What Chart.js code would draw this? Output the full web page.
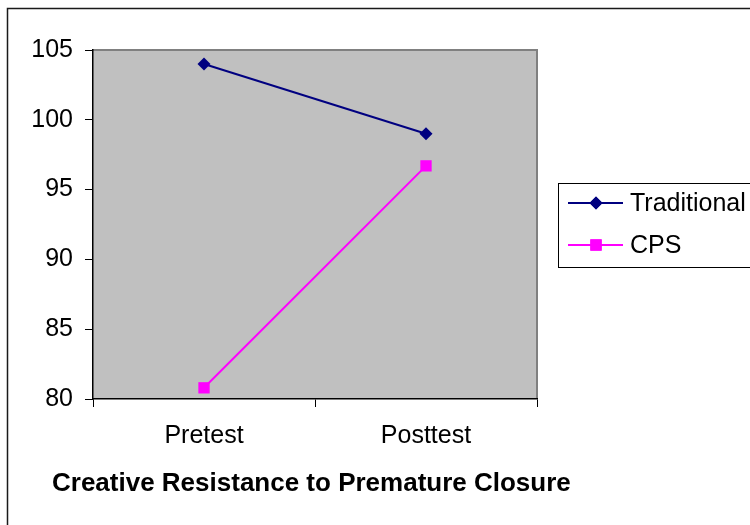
<!DOCTYPE html>
<html>
<head>
<meta charset="utf-8">
<script src="https://cdn.jsdelivr.net/npm/chart.js@4/dist/chart.umd.min.js"></script>
<style>
  html, body { margin: 0; padding: 0; background: #fff; }
  #wrap { width: 750px; height: 525px; }
</style>
</head>
<body>
<div id="wrap"><canvas id="chart" width="750" height="525"></canvas></div>
<script>
const categories = ['Pretest', 'Posttest'];
const traditional = [104.0, 99.0];
const cps = [80.8, 96.7];
const yTicks = [80, 85, 90, 95, 100, 105];
const chartTitle = 'Creative Resistance to Premature Closure';

const FONT = 'Arial, "Liberation Sans", sans-serif';

// gray plot background with the darker top/right edge
const plotBackground = {
  id: 'plotBackground',
  beforeDraw(chart) {
    const { ctx, chartArea: a } = chart;
    ctx.save();
    ctx.fillStyle = '#c0c0c0';
    ctx.fillRect(a.left, a.top, a.right - a.left, a.bottom - a.top);
    ctx.strokeStyle = '#808080';
    ctx.lineWidth = 2;
    ctx.beginPath();
    ctx.moveTo(a.left, a.top);
    ctx.lineTo(a.right, a.top);
    ctx.lineTo(a.right, a.bottom);
    ctx.stroke();
    ctx.restore();
  }
};

// outer frame, boxed legend and bottom title
const decorations = {
  id: 'decorations',
  afterDraw(chart) {
    const { ctx } = chart;
    ctx.save();
    ctx.strokeStyle = '#1a1a1a';
    ctx.lineWidth = 1.5;
    ctx.beginPath();
    ctx.moveTo(7.5, 525);
    ctx.lineTo(7.5, 8.5);
    ctx.lineTo(750, 8.5);
    ctx.stroke();

    // legend
    ctx.strokeStyle = '#000';
    ctx.lineWidth = 1;
    ctx.strokeRect(558.5, 183.5, 200, 84);
    const rows = [203, 245];
    chart.data.datasets.forEach((ds, i) => {
      const y = rows[i];
      ctx.strokeStyle = ds.borderColor;
      ctx.lineWidth = 2;
      ctx.beginPath();
      ctx.moveTo(568, y);
      ctx.lineTo(623, y);
      ctx.stroke();
      ctx.fillStyle = ds.backgroundColor;
      Chart.helpers.drawPoint(ctx, {
        pointStyle: ds.pointStyle,
        radius: ds.pointRadius,
        borderWidth: 0
      }, 596, y);
      ctx.fill();
      ctx.fillStyle = '#000';
      ctx.font = '25px ' + FONT;
      ctx.textBaseline = 'middle';
      ctx.textAlign = 'left';
      ctx.fillText(ds.label, 630, y + 1);
    });

    ctx.fillStyle = '#000';
    ctx.font = 'bold 26px ' + FONT;
    ctx.textBaseline = 'middle';
    ctx.textAlign = 'left';
    ctx.fillText(chartTitle, 52, 484);
    ctx.restore();
  }
};

new Chart(document.getElementById('chart'), {
  type: 'line',
  data: {
    labels: categories,
    datasets: [
      {
        label: 'Traditional',
        data: traditional,
        borderColor: '#000080',
        backgroundColor: '#000080',
        borderWidth: 2,
        pointStyle: 'rectRot',
        pointRadius: 6.5,
        pointBorderWidth: 0
      },
      {
        label: 'CPS',
        data: cps,
        borderColor: '#ff00ff',
        backgroundColor: '#ff00ff',
        borderWidth: 2,
        pointStyle: 'rect',
        pointRadius: 8,
        pointBorderWidth: 0
      }
    ]
  },
  options: {
    responsive: false,
    animation: false,
    layout: { padding: { top: 50, right: 213, bottom: 0, left: 0 } },
    plugins: {
      legend: { display: false },
      tooltip: { enabled: false }
    },
    scales: {
      x: {
        offset: true,
        afterFit(scale) { scale.height = 126; },
        border: { color: '#000', width: 1.5 },
        grid: {
          offset: true,
          drawOnChartArea: false,
          color: '#000',
          tickLength: 8,
          tickWidth: 1
        },
        ticks: {
          color: '#000',
          padding: 14,
          font: { family: FONT, size: 25 }
        }
      },
      y: {
        min: 80,
        max: 105,
        afterFit(scale) { scale.width = 93; },
        afterBuildTicks(scale) { scale.ticks = yTicks.map(v => ({ value: v })); },
        border: { color: '#000', width: 1.5 },
        grid: {
          drawOnChartArea: false,
          color: '#000',
          tickLength: 8,
          tickWidth: 1
        },
        ticks: {
          color: '#000',
          padding: 12,
          font: { family: FONT, size: 25 }
        }
      }
    }
  },
  plugins: [plotBackground, decorations]
});
</script>
</body>
</html>
